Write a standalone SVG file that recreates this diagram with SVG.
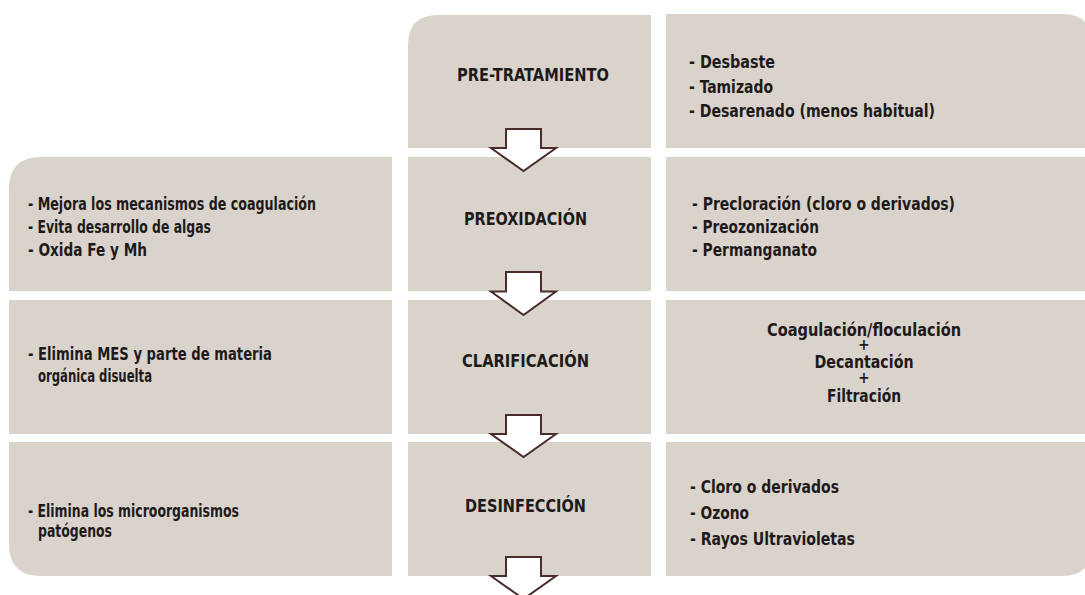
<svg xmlns="http://www.w3.org/2000/svg" width="1085" height="595" viewBox="0 0 1085 595">
<style>
.box{fill:#d9d3cc}
.t{font-family:"Liberation Sans Narrow","DejaVu Sans Condensed","Liberation Sans",sans-serif;font-weight:bold;fill:#1e1a1a}
.h{font-size:18.5px}
.l{font-size:18px}
.p{font-size:15px}
.arr{fill:#ffffff;stroke:#4a2c2a;stroke-width:2;stroke-linejoin:miter}
</style>
<rect width="1085" height="595" fill="#ffffff"/>
<g id="pretratamiento">
<path class="box" d="M408,45 Q408,15 438,15 L651,15 L651,148 L408,148 Z"/>
<text class="t h" x="457" y="81" textLength="152" lengthAdjust="spacingAndGlyphs">PRE-TRATAMIENTO</text>
</g>
<g id="pretratamiento-metodos">
<path class="box" d="M666,14 L1062,14 Q1092,14 1092,44 L1092,148 L666,148 Z"/>
<text class="t l" x="689" y="68" textLength="86" lengthAdjust="spacingAndGlyphs">- Desbaste</text>
<text class="t l" x="689" y="92.5" textLength="84" lengthAdjust="spacingAndGlyphs">- Tamizado</text>
<text class="t l" x="689" y="117" textLength="246" lengthAdjust="spacingAndGlyphs">- Desarenado (menos habitual)</text>
</g>
<g id="preoxidacion-efectos">
<path class="box" d="M9,189 Q9,157 41,157 L392,157 L392,291 L9,291 Z"/>
<text class="t l" x="28" y="210" textLength="288" lengthAdjust="spacingAndGlyphs">- Mejora los mecanismos de coagulación</text>
<text class="t l" x="28" y="233" textLength="183" lengthAdjust="spacingAndGlyphs">- Evita desarrollo de algas</text>
<text class="t l" x="28" y="255.5" textLength="119" lengthAdjust="spacingAndGlyphs">- Oxida Fe y Mh</text>
</g>
<g id="preoxidacion">
<rect class="box" x="408" y="157" width="243" height="134"/>
<text class="t h" x="464" y="225" textLength="123" lengthAdjust="spacingAndGlyphs">PREOXIDACIÓN</text>
</g>
<g id="preoxidacion-metodos">
<rect class="box" x="666" y="157" width="426" height="134"/>
<text class="t l" x="692" y="210" textLength="263" lengthAdjust="spacingAndGlyphs">- Precloración (cloro o derivados)</text>
<text class="t l" x="692" y="233" textLength="127" lengthAdjust="spacingAndGlyphs">- Preozonización</text>
<text class="t l" x="692" y="256" textLength="125" lengthAdjust="spacingAndGlyphs">- Permanganato</text>
</g>
<g id="clarificacion-efectos">
<rect class="box" x="9" y="300" width="383" height="134"/>
<text class="t l" x="28" y="360" textLength="244" lengthAdjust="spacingAndGlyphs">- Elimina MES y parte de materia</text>
<text class="t l" x="38" y="382" textLength="114" lengthAdjust="spacingAndGlyphs">orgánica disuelta</text>
</g>
<g id="clarificacion">
<rect class="box" x="408" y="300" width="243" height="134"/>
<text class="t h" x="462" y="367" textLength="127" lengthAdjust="spacingAndGlyphs">CLARIFICACIÓN</text>
</g>
<g id="clarificacion-metodos">
<rect class="box" x="666" y="300" width="426" height="134"/>
<text class="t l" text-anchor="middle"><tspan x="864" y="336" textLength="194" lengthAdjust="spacingAndGlyphs">Coagulación/floculación</tspan><tspan class="p" x="864" y="350">+</tspan><tspan x="864" y="368" textLength="99" lengthAdjust="spacingAndGlyphs">Decantación</tspan><tspan class="p" x="864" y="383">+</tspan><tspan x="864" y="402" textLength="74" lengthAdjust="spacingAndGlyphs">Filtración</tspan></text>
</g>
<g id="desinfeccion-efectos">
<path class="box" d="M9,442 L392,442 L392,576 L41,576 Q9,576 9,544 Z"/>
<text class="t l" x="28" y="517" textLength="211" lengthAdjust="spacingAndGlyphs">- Elimina los microorganismos</text>
<text class="t l" x="38" y="537" textLength="74" lengthAdjust="spacingAndGlyphs">patógenos</text>
</g>
<g id="desinfeccion">
<rect class="box" x="408" y="442" width="243" height="134"/>
<text class="t h" x="465" y="512" textLength="121" lengthAdjust="spacingAndGlyphs">DESINFECCIÓN</text>
</g>
<g id="desinfeccion-metodos">
<path class="box" d="M666,442 L1092,442 L1092,546 Q1092,576 1062,576 L666,576 Z"/>
<text class="t l" x="690" y="493" textLength="149" lengthAdjust="spacingAndGlyphs">- Cloro o derivados</text>
<text class="t l" x="690" y="519" textLength="59" lengthAdjust="spacingAndGlyphs">- Ozono</text>
<text class="t l" x="690" y="545" textLength="165" lengthAdjust="spacingAndGlyphs">- Rayos Ultravioletas</text>
</g>
<g id="connectors">
<path class="arr" d="M506,129 L541,129 L541,148 L556,148 L523.5,171 L491,148 L506,148 Z"/>
<path class="arr" d="M506,272 L541,272 L541,291.5 L556,291.5 L523.5,315 L491,291.5 L506,291.5 Z"/>
<path class="arr" d="M506,415 L541,415 L541,434 L556,434 L523.5,457 L491,434 L506,434 Z"/>
<path class="arr" d="M506,557 L541,557 L541,576 L556,576 L523.5,599 L491,576 L506,576 Z"/>
</g>
</svg>
